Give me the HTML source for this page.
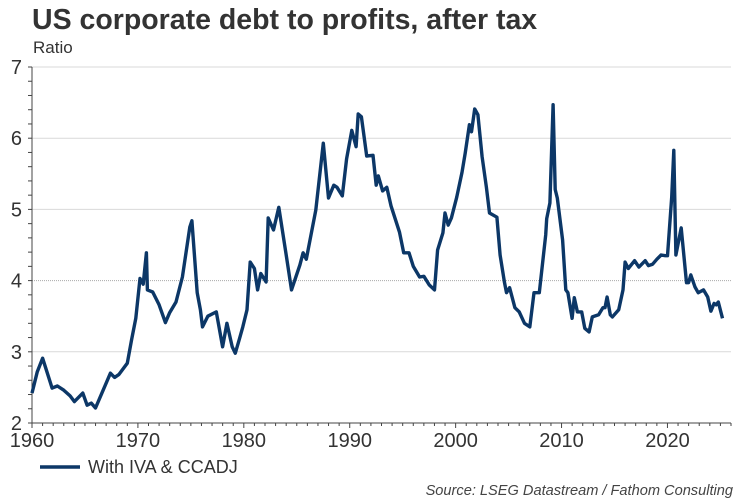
<!DOCTYPE html>
<html><head><meta charset="utf-8"><style>
body{margin:0;background:#fff;width:750px;height:500px;overflow:hidden;font-family:"Liberation Sans",Arial,sans-serif}
svg{display:block}
</style></head><body>
<svg width="750" height="500">
<text x="32" y="29" font-size="28.5" font-weight="bold" fill="#333">US corporate debt to profits, after tax</text>
<text x="33" y="53" font-size="17" fill="#333">Ratio</text>
<g id="grid"></g><g id="axes"></g>
<path id="line" fill="none" stroke="#0c3767" stroke-width="3.4" stroke-linejoin="round"/>
<line x1="40" y1="467" x2="80" y2="467" stroke="#0c3767" stroke-width="3.4"/>
<text x="88" y="473" font-size="18" fill="#333">With IVA &amp; CCADJ</text>
<text x="733" y="495" font-size="14.6" font-style="italic" fill="#444" text-anchor="end">Source: LSEG Datastream / Fathom Consulting</text>
</svg>
<script>
const years=[1960,1960.5,1961,1961.9,1962.4,1963,1963.6,1964,1964.8,1965.2,1965.6,1966,1966.6,1967.4,1967.8,1968.2,1969,1969.4,1969.8,1970.2,1970.5,1970.8,1970.9,1971.4,1972,1972.6,1973,1973.6,1974.2,1974.9,1975.1,1975.6,1975.9,1976.1,1976.6,1977.4,1978,1978.4,1978.9,1979.2,1979.6,1979.9,1980.3,1980.6,1981,1981.3,1981.6,1982.1,1982.3,1982.8,1983.3,1984,1984.5,1985.3,1985.6,1985.9,1986.8,1987.5,1988,1988.5,1988.8,1989.3,1989.7,1990.2,1990.6,1990.8,1991.1,1991.6,1992.2,1992.5,1992.7,1993.1,1993.5,1993.9,1994.7,1995.1,1995.6,1996,1996.6,1997,1997.5,1998,1998.3,1998.8,1999,1999.3,1999.6,2000.1,2000.6,2000.9,2001.3,2001.5,2001.8,2002.1,2002.5,2002.9,2003.2,2003.9,2004.2,2004.6,2004.8,2005.1,2005.6,2006,2006.5,2007,2007.4,2007.9,2008.5,2008.6,2008.9,2009.2,2009.4,2009.6,2010.1,2010.4,2010.6,2011,2011.2,2011.5,2011.9,2012.2,2012.6,2012.9,2013.5,2013.9,2014.1,2014.3,2014.6,2014.8,2015.4,2015.8,2016,2016.3,2016.9,2017.3,2017.9,2018.2,2018.6,2019,2019.4,2019.8,2020,2020.4,2020.6,2020.8,2021.3,2021.8,2022,2022.2,2022.6,2022.9,2023.4,2023.8,2024.1,2024.4,2024.6,2024.8,2025.2];
const values=[2.42,2.72,2.91,2.49,2.52,2.46,2.38,2.3,2.42,2.25,2.28,2.21,2.42,2.7,2.64,2.68,2.84,3.17,3.47,4.03,3.95,4.39,3.87,3.84,3.66,3.41,3.55,3.7,4.05,4.75,4.84,3.83,3.59,3.35,3.5,3.56,3.07,3.4,3.07,2.98,3.19,3.35,3.59,4.26,4.17,3.87,4.1,3.98,4.88,4.71,5.03,4.36,3.87,4.22,4.39,4.3,4.99,5.93,5.16,5.34,5.31,5.19,5.71,6.11,5.88,6.34,6.3,5.75,5.76,5.34,5.47,5.26,5.31,5.05,4.68,4.39,4.39,4.2,4.05,4.06,3.94,3.87,4.43,4.67,4.95,4.78,4.88,5.17,5.52,5.79,6.19,6.09,6.41,6.33,5.74,5.31,4.95,4.89,4.36,3.98,3.83,3.9,3.62,3.56,3.4,3.35,3.83,3.83,4.64,4.87,5.09,6.47,5.28,5.16,4.57,3.87,3.83,3.47,3.76,3.56,3.56,3.33,3.28,3.49,3.52,3.62,3.62,3.77,3.52,3.49,3.59,3.87,4.26,4.17,4.28,4.19,4.28,4.21,4.23,4.3,4.36,4.35,4.35,5.17,5.83,4.36,4.74,3.97,3.97,4.08,3.91,3.83,3.87,3.77,3.57,3.68,3.66,3.7,3.47,3.56];
const yTicks=[2,3,4,5,6,7];
const xTicks=[1960,1970,1980,1990,2000,2010,2020];
const X0=32,X1=731,Y0=423,Y1=67;
const xs=y=>X0+(y-1960)*(X1-X0)/(2026-1960);
const ys=v=>Y0-(v-2)*(Y0-Y1)/5;
const NS="http://www.w3.org/2000/svg";
const grid=document.getElementById('grid'),axes=document.getElementById('axes');
function mk(p,tag,at){const e=document.createElementNS(NS,tag);for(const k in at)e.setAttribute(k,at[k]);p.appendChild(e);return e;}
yTicks.forEach(t=>{
 if(t>2){const g=mk(grid,'line',{x1:X0,x2:X1,y1:ys(t),y2:ys(t),stroke:t===4?'#aaa':'#d9d9d9','stroke-width':1,'stroke-dasharray':t===4?'1,1':'none'});
 
 }
 const l=mk(axes,'text',{x:22,y:ys(t)+7,'font-size':20,fill:'#333','text-anchor':'end'});l.textContent=t;
 
 
});
for(let v=2;v<=7.001;v+=0.2){mk(axes,'line',{x1:X0-4,x2:X0,y1:ys(v),y2:ys(v),stroke:'#444','stroke-width':1});}
for(let y=1960;y<=2026;y++){mk(axes,'line',{x1:xs(y),x2:xs(y),y1:Y0,y2:Y0+(y%10===0?5:3),stroke:'#444','stroke-width':1});}
const ya=mk(axes,'line',{x1:X0,x2:X0,y1:Y1,y2:Y0,stroke:'#444','stroke-width':1});


const xa=mk(axes,'line',{x1:X0,x2:X1,y1:Y0,y2:Y0,stroke:'#444','stroke-width':1});


xTicks.forEach(t=>{const l=mk(axes,'text',{x:xs(t),y:447,'font-size':20,fill:'#333','text-anchor':'middle'});l.textContent=t;
 
 });
document.getElementById('line').setAttribute('d',years.map((y,i)=>(i?'L':'M')+xs(y).toFixed(1)+','+ys(values[i]).toFixed(1)).join(''));
</script>
</body></html>
